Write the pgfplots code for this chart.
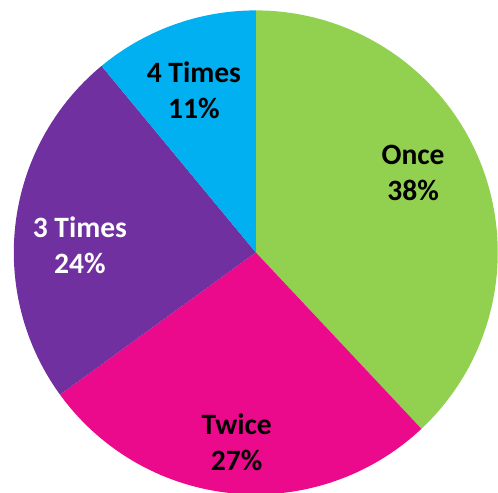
\documentclass[border=0pt]{standalone}
\usepackage{pgfplots}
\pgfplotsset{compat=1.18}
\usepackage{fontspec}
\setmainfont{Carlito}
\definecolor{cOnce}{HTML}{92D050}
\definecolor{cTwice}{HTML}{EC0A8C}
\definecolor{cThree}{HTML}{7030A0}
\definecolor{cFour}{HTML}{00B0F0}
% shares (percent): Once 38, Twice 27, 3 Times 24, 4 Times 11
% pie starts at 90 deg and runs clockwise: angle = 90 - 3.6*cumulative share
\tikzset{lbl/.style={font=\fontsize{14}{17}\selectfont\bfseries, align=center}}
\begin{document}
\begin{tikzpicture}
\begin{axis}[
  name=pie,
  scale only axis, width=8.3cm, height=8.2cm,
  hide axis,
  xmin=-1.057, xmax=1.001, ymin=-0.990, ymax=1.043,
  clip=true,
]
% Once 38%: from 90 to 90-3.6*38
\addplot[fill=cOnce, draw=none, domain={90-3.6*38}:90, samples=90, variable=\t]
  ({cos(\t)},{sin(\t)}) -- (axis cs:0,0) -- cycle;
% Twice 27%
\addplot[fill=cTwice, draw=none, domain={90-3.6*65}:{90-3.6*38}, samples=70, variable=\t]
  ({cos(\t)},{sin(\t)}) -- (axis cs:0,0) -- cycle;
% 3 Times 24%
\addplot[fill=cThree, draw=none, domain={90-3.6*89}:{90-3.6*65}, samples=60, variable=\t]
  ({cos(\t)},{sin(\t)}) -- (axis cs:0,0) -- cycle;
% 4 Times 11%
\addplot[fill=cFour, draw=none, domain={90-3.6*100}:{90-3.6*89}, samples=30, variable=\t]
  ({cos(\t)},{sin(\t)}) -- (axis cs:0,0) -- cycle;
\node[lbl, text=black] at (axis cs:0.650,0.330) {Once\\38\%};
\node[lbl, text=black] at (axis cs:-0.079,-0.786) {Twice\\27\%};
\node[lbl, text=white] at (axis cs:-0.727,0.030) {3 Times\\24\%};
\node[lbl, text=black] at (axis cs:-0.256,0.670) {4 Times\\11\%};
\end{axis}
\pgfresetboundingbox
\useasboundingbox (pie.south west) rectangle (pie.north east);
\end{tikzpicture}
\end{document}
